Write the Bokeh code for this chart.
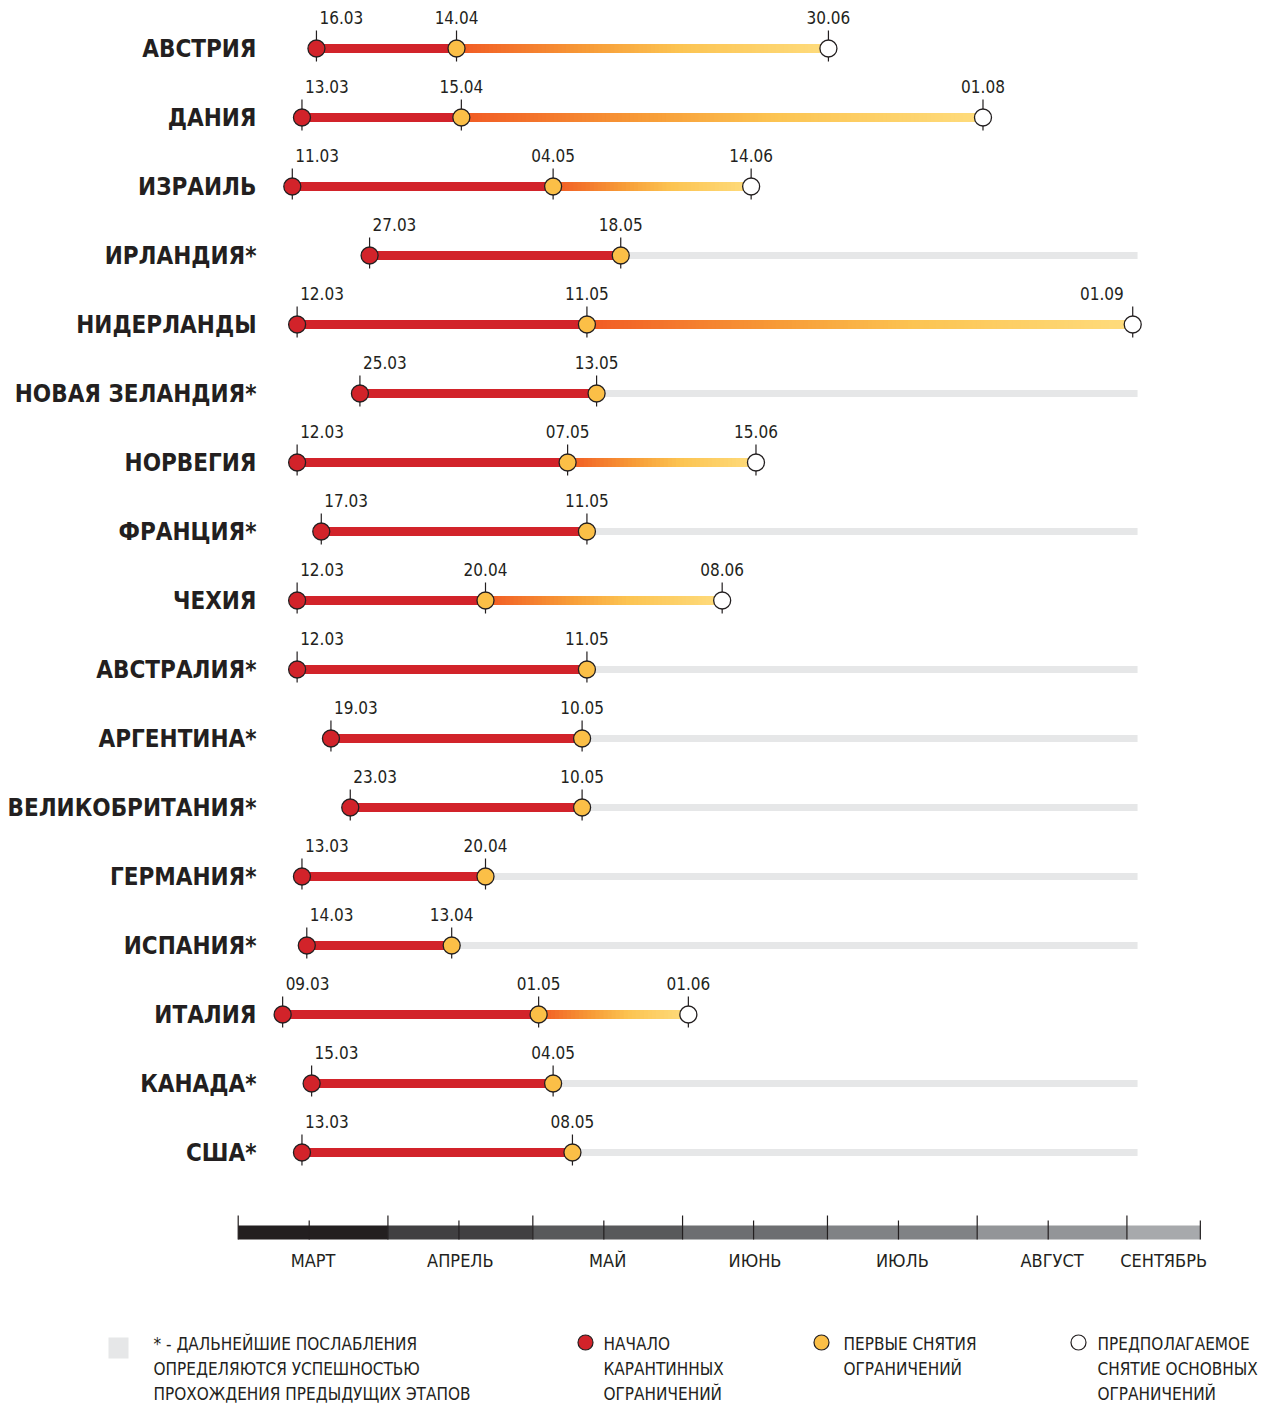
import datetime as dt
from bokeh.plotting import figure
from bokeh.models import Range1d
from bokeh.core.properties import value
from bokeh.embed import file_html
from bokeh.resources import INLINE

# ---------------- data ----------------
countries = ["АВСТРИЯ", "ДАНИЯ", "ИЗРАИЛЬ", "ИРЛАНДИЯ*", "НИДЕРЛАНДЫ",
             "НОВАЯ ЗЕЛАНДИЯ*", "НОРВЕГИЯ", "ФРАНЦИЯ*", "ЧЕХИЯ",
             "АВСТРАЛИЯ*", "АРГЕНТИНА*", "ВЕЛИКОБРИТАНИЯ*", "ГЕРМАНИЯ*",
             "ИСПАНИЯ*", "ИТАЛИЯ", "КАНАДА*", "США*"]
quarantine_start = ["16.03", "13.03", "11.03", "27.03", "12.03", "25.03", "12.03",
                    "17.03", "12.03", "12.03", "19.03", "23.03", "13.03", "14.03",
                    "09.03", "15.03", "13.03"]
first_easing = ["14.04", "15.04", "04.05", "18.05", "11.05", "13.05", "07.05",
                "11.05", "20.04", "11.05", "10.05", "10.05", "20.04", "13.04",
                "01.05", "04.05", "08.05"]
main_lifting = ["30.06", "01.08", "14.06", None, "01.09", None, "15.06", None,
                "08.06", None, None, None, None, None, "01.06", None, None]
months = ["МАРТ", "АПРЕЛЬ", "МАЙ", "ИЮНЬ", "ИЮЛЬ", "АВГУСТ", "СЕНТЯБРЬ"]
month_numbers = [3, 4, 5, 6, 7, 8, 9]
month_colors = ["#231f20", "#414042", "#58595b", "#6d6e71", "#808285", "#939598", "#a7a9ac"]
scale_end = "02.09"
axis_end = "15.09"
legend_texts = [["* - ДАЛЬНЕЙШИЕ ПОСЛАБЛЕНИЯ", "ОПРЕДЕЛЯЮТСЯ УСПЕШНОСТЬЮ", "ПРОХОЖДЕНИЯ ПРЕДЫДУЩИХ ЭТАПОВ"],
                ["НАЧАЛО", "КАРАНТИННЫХ", "ОГРАНИЧЕНИЙ"],
                ["ПЕРВЫЕ СНЯТИЯ", "ОГРАНИЧЕНИЙ"],
                ["ПРЕДПОЛАГАЕМОЕ", "СНЯТИЕ ОСНОВНЫХ", "ОГРАНИЧЕНИЙ"]]

BASE = dt.date(2020, 3, 1)


def day(s):
    d, m = s.split(".")
    return (dt.date(2020, int(m), int(d)) - BASE).days


# ---------------- layout helpers (pixel -> data) ----------------
W, H = 1261, 1405
PX0, PXD = 243.5, 4.83      # page x of 1 March, pixels per day
ROW0, ROWH = 48.0, 69.0     # page y of first row, row step


def X(px):
    return (px - PX0) / PXD


def Y(py):
    return (py - ROW0) / ROWH


COND = value("DejaVu Sans Condensed")
INK = "#231f20"
RED = "#d2232a"
YEL = "#fbbf47"
GRAY = "#e6e7e8"

p = figure(width=W, height=H, x_range=Range1d(X(0), X(W)),
           y_range=Range1d(Y(H), Y(0)), output_backend="svg",
           toolbar_location=None, x_axis_type=None, y_axis_type=None,
           min_border=0, outline_line_color=None)
p.grid.visible = False
p.background_fill_color = "white"
p.border_fill_color = "white"

rows = list(range(len(countries)))
d0 = [day(s) for s in quarantine_start]
d1 = [day(s) for s in first_easing]
d2 = [day(s) if s else None for s in main_lifting]

# grey bars for countries without date of main lifting
gx0 = [d1[i] for i in rows if d2[i] is None]
gy = [rows[i] for i in rows if d2[i] is None]
p.segment(x0=gx0, y0=gy, x1=[day(scale_end)] * len(gx0), y1=gy,
          line_color=GRAY, line_width=7, line_cap="butt")

# gradient bars
stops = [(0.0, (241, 90, 36)), (0.35, (247, 155, 55)), (0.6, (252, 196, 82)),
         (1.0, (254, 220, 125))]


def grad(t):
    for (t0, c0), (t1, c1) in zip(stops[:-1], stops[1:]):
        if t0 <= t <= t1:
            f = (t - t0) / (t1 - t0)
            return "#%02x%02x%02x" % tuple(int(round(a + (b - a) * f)) for a, b in zip(c0, c1))
    return "#%02x%02x%02x" % stops[-1][1]


sx0, sx1, sy, sc = [], [], [], []
OVER = 2.5 / PXD
for i in rows:
    if d2[i] is None:
        continue
    a, b = d1[i], d2[i]
    n = max(12, int((b - a) * PXD / 4))
    step = (b - a) / n
    for k in range(n):
        sx0.append(a + step * k)
        sx1.append(min(b, a + step * (k + 1) + OVER))
        sy.append(i)
        sc.append(grad((k + 0.5) / n))
p.segment(x0=sx0, y0=sy, x1=sx1, y1=sy, line_color=sc, line_width=9, line_cap="butt")

# red bars
p.segment(x0=d0, y0=rows, x1=d1, y1=rows, line_color=RED, line_width=9, line_cap="butt")

# tick lines through markers
tx, tyy = [], []
for i in rows:
    for d in (d0[i], d1[i], d2[i]):
        if d is not None:
            tx.append(d)
            tyy.append(i)
p.segment(x0=tx, y0=[r - 18 / ROWH for r in tyy], x1=tx, y1=[r + 13 / ROWH for r in tyy],
          line_color=INK, line_width=1.2)

# markers
p.scatter(x=d0, y=rows, size=17, marker="circle", fill_color=RED, line_color=INK, line_width=1.3)
p.scatter(x=d1, y=rows, size=17, marker="circle", fill_color=YEL, line_color=INK, line_width=1.3)
ex = [d2[i] for i in rows if d2[i] is not None]
ey = [i for i in rows if d2[i] is not None]
p.scatter(x=ex, y=ey, size=17, marker="circle", fill_color="white", line_color=INK, line_width=1.3)

# date labels
lab = dict(text_font=COND, text_font_size="17px", text_color=INK, text_baseline="alphabetic")
YO = -31
p.text(x=d0, y=rows, text=quarantine_start, text_align="left", x_offset=3, y_offset=YO, **lab)
p.text(x=d1, y=rows, text=first_easing, text_align="center", y_offset=YO, **lab)
ec = [i for i in rows if d2[i] is not None and d2[i] < 170]
er = [i for i in rows if d2[i] is not None and d2[i] >= 170]
p.text(x=[d2[i] for i in ec], y=ec, text=[main_lifting[i] for i in ec],
       text_align="center", y_offset=YO, **lab)
p.text(x=[d2[i] for i in er], y=er, text=[main_lifting[i] for i in er],
       text_align="right", x_offset=-9, y_offset=YO, **lab)

# country labels
p.text(x=[X(256)] * len(rows), y=rows, text=countries, text_font=COND,
       text_font_style="bold", text_font_size="24px", text_color=INK,
       text_align="right", text_baseline="middle")

# month scale
mstarts = [(dt.date(2020, m, 1) - BASE).days - 1.2 for m in month_numbers]
mends = mstarts[1:] + [day(axis_end)]
p.quad(left=mstarts, right=mends, bottom=Y(1239), top=Y(1225), fill_color=month_colors,
       line_color=None)
big = mstarts[:]  # boundary ticks
p.segment(x0=big, y0=Y(1215), x1=big, y1=Y(1239), line_color=INK, line_width=1.2)
mids = [(dt.date(2020, m, 15) - BASE).days - 0.5 for m in month_numbers[:-1]] + [day(axis_end)]
p.segment(x0=mids, y0=Y(1220), x1=mids, y1=Y(1239), line_color=INK, line_width=1.2)
p.text(x=[(a + b) / 2 for a, b in zip(mstarts, mends)], y=Y(1260), text=months,
       text_font=COND, text_font_size="18px", text_color=INK, text_align="center",
       text_baseline="middle")

# legend
p.quad(left=X(108), right=X(128), top=Y(1337), bottom=Y(1358), fill_color=GRAY, line_color=None)
p.scatter(x=[X(585), X(821), X(1078)], y=Y(1342), size=15, marker="circle",
          fill_color=[RED, YEL, "white"], line_color=INK, line_width=1.2)
lx = [153, 603, 843, 1097]
tx_, ty_, tt_ = [], [], []
for px, lines in zip(lx, legend_texts):
    for j, t in enumerate(lines):
        tx_.append(X(px))
        ty_.append(Y(1343 + 25 * j))
        tt_.append(t)
p.text(x=tx_, y=ty_, text=tt_, text_font=COND, text_font_size="17px", text_color=INK,
       text_align="left", text_baseline="middle")

open("out.html", "w").write(file_html(p, INLINE))
